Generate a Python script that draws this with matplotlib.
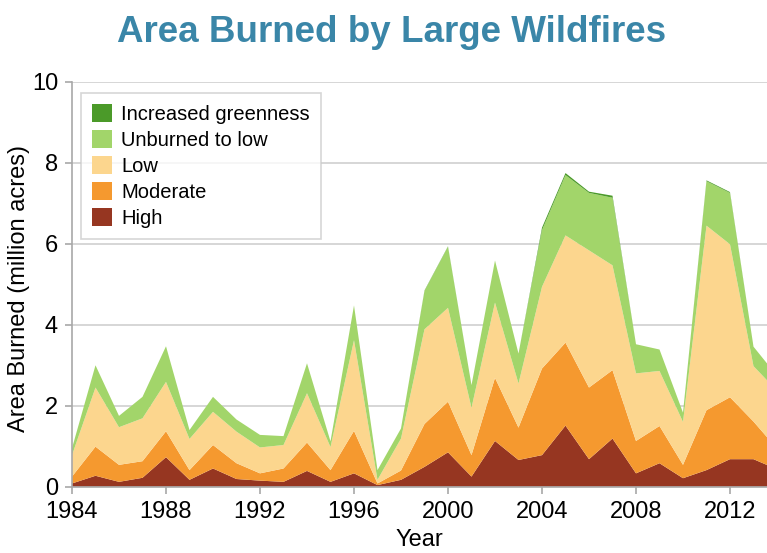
import matplotlib
matplotlib.use("Agg")
import matplotlib.pyplot as plt
from matplotlib.patches import Patch

plt.rcParams['font.family'] = ['Liberation Sans', 'DejaVu Sans']

# data (million acres per year, by burn severity class)
years = list(range(1984, 2015))
high = [0.08, 0.27, 0.12, 0.22, 0.73, 0.17, 0.45, 0.19, 0.15, 0.12, 0.39, 0.12, 0.33, 0.04, 0.17, 0.49,
        0.85, 0.25, 1.13, 0.66, 0.78, 1.51, 0.68, 1.19, 0.33, 0.58, 0.21, 0.41, 0.68, 0.68, 0.43]
moderate = [0.17, 0.72, 0.42, 0.41, 0.64, 0.24, 0.58, 0.39, 0.18, 0.33, 0.70, 0.29, 1.05, 0.04, 0.23, 1.06,
            1.25, 0.53, 1.56, 0.80, 2.14, 2.05, 1.77, 1.69, 0.80, 0.92, 0.33, 1.48, 1.53, 0.93, 0.51]
low = [0.53, 1.46, 0.93, 1.06, 1.22, 0.77, 0.82, 0.78, 0.64, 0.58, 1.22, 0.57, 2.24, 0.09, 0.79, 2.34,
       2.32, 1.17, 1.86, 1.09, 2.02, 2.65, 3.39, 2.59, 1.67, 1.36, 1.06, 4.56, 3.78, 1.37, 1.43]
unburned_low = [0.17, 0.55, 0.28, 0.53, 0.88, 0.22, 0.37, 0.30, 0.31, 0.22, 0.74, 0.14, 0.86, 0.24, 0.25, 0.95,
                1.51, 0.56, 1.04, 0.74, 1.40, 1.49, 1.42, 1.67, 0.72, 0.53, 0.23, 1.10, 1.27, 0.48, 0.37]
greenness = [0, 0, 0, 0, 0, 0, 0, 0, 0, 0, 0, 0, 0, 0, 0, 0.01,
             0.01, 0, 0, 0, 0.06, 0.05, 0.03, 0.05, 0, 0, 0, 0.02, 0.02, 0, 0]

labels = ["High", "Moderate", "Low", "Unburned to low", "Increased greenness"]
colors = ["#963621", "#f5992f", "#fcd68e", "#a2d56a", "#4b9a29"]
xticks = [1984, 1988, 1992, 1996, 2000, 2004, 2008, 2012]
yticks = [0, 2, 4, 6, 8, 10]

W, H = 767, 553
fig = plt.figure(figsize=(W / 100, H / 100), dpi=100)
ax = fig.add_axes([72 / W, 66.3 / H, 695 / W, 404.7 / H])

ax.stackplot(years, high, moderate, low, unburned_low, greenness,
             colors=colors, linewidth=0, zorder=2)

ax.set_xlim(1984, 1984 + 695 / 23.5)
ax.set_ylim(0, 10)
ax.set_xticks(xticks)
ax.set_yticks(yticks)
ax.grid(axis='y', color='#d0d0d0', linewidth=1.2, zorder=0)
ax.set_axisbelow(True)

for s in ['top', 'right']:
    ax.spines[s].set_visible(False)
for s in ['left', 'bottom']:
    ax.spines[s].set_color('#a8a8a8')
    ax.spines[s].set_linewidth(1.2)
ax.tick_params(axis='both', colors='#a8a8a8', length=5, width=1.2,
               labelcolor='black', labelsize=17, pad=5)

ax.set_xlabel("Year", fontsize=17)
ax.xaxis.set_label_coords(0.5, -0.104)
ax.set_ylabel("Area Burned (million acres)", fontsize=17)
ax.yaxis.set_label_coords(-0.06, 0.49)

handles = [Patch(facecolor=c, edgecolor='none') for c in colors[::-1]]
leg = ax.legend(handles, labels[::-1], loc='upper left', fontsize=14.5,
                bbox_to_anchor=(0.013, 0.973), borderaxespad=0, frameon=True,
                fancybox=False, edgecolor='#cccccc', handlelength=1.0,
                handleheight=1.0, handletextpad=0.45, labelspacing=0.3,
                borderpad=0.55)
leg.get_frame().set_linewidth(1.2)

fig.text(0.51, 0.942, "Area Burned by Large Wildfires", ha='center', va='center',
         fontsize=26.5, fontweight='bold', color='#3a86a8')

fig.savefig("out.png", dpi=100)
